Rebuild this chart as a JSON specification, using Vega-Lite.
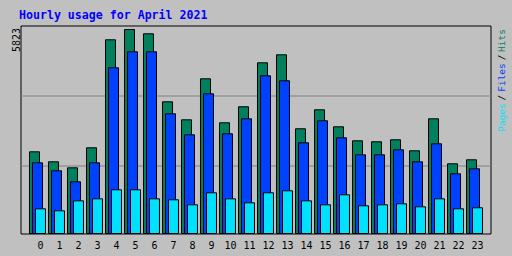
{
  "$schema": "https://vega.github.io/schema/vega-lite/v6.json",
  "width": 470,
  "height": 208,
  "autosize": {"type": "none"},
  "padding": {"left": 20.5, "top": 25.5, "right": 21.5, "bottom": 22.5},
  "background": "#c0c0c0",
  "title": {
    "text": "Hourly usage for April 2021",
    "anchor": "start",
    "frame": "group",
    "font": "DejaVu Sans Mono",
    "fontSize": 11.6,
    "fontWeight": "bold",
    "color": "#0000ff",
    "baseline": "alphabetic",
    "offset": 6,
    "dy": 11.5,
    "dx": -1.5
  },
  "config": {
    "view": {"stroke": "black", "strokeWidth": 1, "fill": null},
    "axis": {"labelFont": "DejaVu Sans Mono", "titleFont": "DejaVu Sans Mono"}
  },
  "data": {
    "values": [
      {"hour": 0, "hits": 2332, "files": 2018, "pages": 705},
      {"hour": 1, "hits": 2047, "files": 1790, "pages": 648},
      {"hour": 2, "hits": 1875, "files": 1476, "pages": 933},
      {"hour": 3, "hits": 2446, "files": 2018, "pages": 990},
      {"hour": 4, "hits": 5529, "files": 4730, "pages": 1247},
      {"hour": 5, "hits": 5823, "files": 5186, "pages": 1247},
      {"hour": 6, "hits": 5700, "files": 5186, "pages": 990},
      {"hour": 7, "hits": 3759, "files": 3417, "pages": 962},
      {"hour": 8, "hits": 3245, "files": 2817, "pages": 819},
      {"hour": 9, "hits": 4416, "files": 3988, "pages": 1162},
      {"hour": 10, "hits": 3160, "files": 2846, "pages": 990},
      {"hour": 11, "hits": 3617, "files": 3274, "pages": 876},
      {"hour": 12, "hits": 4872, "files": 4501, "pages": 1162},
      {"hour": 13, "hits": 5101, "files": 4359, "pages": 1219},
      {"hour": 14, "hits": 2989, "files": 2589, "pages": 933},
      {"hour": 15, "hits": 3531, "files": 3217, "pages": 819},
      {"hour": 16, "hits": 3046, "files": 2732, "pages": 1105},
      {"hour": 17, "hits": 2646, "files": 2246, "pages": 791},
      {"hour": 18, "hits": 2618, "files": 2246, "pages": 819},
      {"hour": 19, "hits": 2675, "files": 2389, "pages": 848},
      {"hour": 20, "hits": 2361, "files": 2047, "pages": 762},
      {"hour": 21, "hits": 3274, "files": 2560, "pages": 990},
      {"hour": 22, "hits": 1990, "files": 1704, "pages": 705},
      {"hour": 23, "hits": 2104, "files": 1847, "pages": 734}
    ]
  },
  "encoding": {
    "x": {
      "field": "hour",
      "type": "ordinal",
      "scale": {"paddingInner": 0, "paddingOuter": 0.3684, "align": 0.75},
      "axis": {
        "title": "/\u00a0\u00a0\u00a0\u00a0\u00a0\u00a0/",
        "titleX": 483.5,
        "titleY": -156.5,
        "titleAngle": -90,
        "titleAlign": "center",
        "titleBaseline": "alphabetic",
        "titleColor": "black",
        "titleFontSize": 9.5,
        "titleFontWeight": "normal",
        "labelAngle": 0,
        "labelFontSize": 10,
        "labelColor": "black",
        "labelBaseline": "alphabetic",
        "labelPadding": 14.5,
        "ticks": false,
        "tickSize": 0,
        "domain": false,
        "grid": false
      }
    }
  },
  "layer": [
    {
      "mark": {"type": "bar", "width": 10, "xOffset": -6, "fill": "#00805c", "stroke": "black", "strokeWidth": 1},
      "encoding": {
        "y": {
          "field": "hits",
          "type": "quantitative",
          "scale": {"domain": [0, 5937], "nice": false},
          "axis": {
            "orient": "left",
            "values": [1941, 3940, 5823],
            "labelExpr": "datum.value == 5823 ? '5823' : ''",
            "grid": true,
            "gridColor": "#808080",
            "gridOpacity": {"condition": {"test": "datum.value == 5823", "value": 0}, "value": 1},
            "ticks": false,
            "tickSize": 0,
            "domain": false,
            "labelAngle": -90,
            "labelAlign": "right",
            "labelBaseline": "alphabetic",
            "labelPadding": 1,
            "labelFontSize": 10,
            "labelColor": "black",
            "labelOffset": -2,
            "title": "Hits",
            "titleX": 483.5,
            "titleY": 14.5,
            "titleAngle": -90,
            "titleAlign": "center",
            "titleBaseline": "alphabetic",
            "titleColor": "#00805c",
            "titleFontSize": 9.5,
            "titleFontWeight": "normal"
          }
        }
      }
    },
    {
      "mark": {"type": "bar", "width": 10, "xOffset": -3, "fill": "#0040ff", "stroke": "black", "strokeWidth": 1},
      "encoding": {
        "y": {
          "field": "files",
          "type": "quantitative",
          "scale": {"domain": [0, 5937], "nice": false},
          "axis": {
            "orient": "right",
            "labels": false,
            "ticks": false,
            "domain": false,
            "grid": false,
            "title": "Files",
            "titleX": 13.5,
            "titleY": 51.5,
            "titleAngle": -90,
            "titleAlign": "center",
            "titleBaseline": "alphabetic",
            "titleColor": "#0040ff",
            "titleFontSize": 9.5,
            "titleFontWeight": "normal"
          }
        }
      }
    },
    {
      "mark": {"type": "bar", "width": 10, "xOffset": 0, "fill": "#00e0ff", "stroke": "black", "strokeWidth": 1},
      "encoding": {
        "y": {
          "field": "pages",
          "type": "quantitative",
          "scale": {"domain": [0, 5937], "nice": false},
          "axis": {
            "orient": "right",
            "labels": false,
            "ticks": false,
            "domain": false,
            "grid": false,
            "title": "Pages",
            "titleX": 13.5,
            "titleY": 91.5,
            "titleAngle": -90,
            "titleAlign": "center",
            "titleBaseline": "alphabetic",
            "titleColor": "#00e0ff",
            "titleFontSize": 9.5,
            "titleFontWeight": "normal"
          }
        }
      }
    }
  ],
  "resolve": {"scale": {"y": "independent"}, "axis": {"y": "independent"}}
}
